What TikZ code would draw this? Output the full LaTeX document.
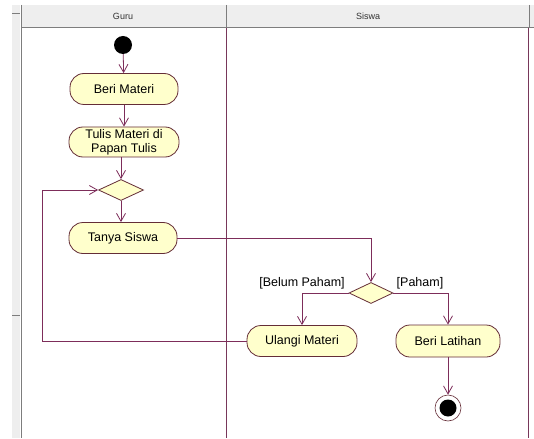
\documentclass[tikz,border=0pt]{standalone}
\usepackage{fontspec}
\setmainfont{Liberation Sans}
\usetikzlibrary{shapes.geometric,arrows.meta}

\definecolor{actfill}{RGB}{255,255,204}
\definecolor{actdraw}{RGB}{100,45,55}
\definecolor{flow}{RGB}{125,45,90}
\definecolor{lane}{RGB}{120,55,90}
\definecolor{hdrfill}{RGB}{238,238,238}
\definecolor{hdrline}{RGB}{125,125,125}
\definecolor{hdrtext}{RGB}{50,50,50}

\tikzset{
  actbox/.style={draw=actdraw, fill=actfill, line width=0.8pt, rounded corners=14pt,
    inner sep=0pt, align=center, font=\fontsize{12.5}{14}\selectfont},
  decide/.style={draw=actdraw, fill=actfill, line width=0.8pt, diamond,
    inner sep=0pt, minimum width=45pt, minimum height=21pt},
  flowline/.style={draw=flow, line width=0.8pt,
    -{Straight Barb[length=8pt,width=9pt,line width=0.8pt]}},
  guard/.style={font=\fontsize{12.5}{14}\selectfont, inner sep=0pt},
  hdrlabel/.style={font=\fontsize{9}{10}\selectfont, text=hdrtext, inner sep=0pt}
}

\begin{document}
\begin{tikzpicture}[x=1pt, y=-1pt]
  \useasboundingbox (0,0) rectangle (534,438);
  \fill[white] (0,0) rectangle (534,438);

  % scroll strip on the left
  \fill[hdrfill] (12,5) rectangle (20,438);
  \draw[hdrline, line width=0.6pt] (12,13) -- (20,13);
  \draw[hdrline, line width=0.6pt] (12,315) -- (20,315);

  % swimlane header
  \fill[hdrfill] (21,5) rectangle (534,27);
  \draw[hdrline, line width=0.6pt] (226,5) -- (226,27);
  \draw[hdrline, line width=0.6pt] (529,5) -- (529,27);
  \draw[hdrline, line width=1.6pt] (21,27.5) -- (534,27.5);
  \node[hdrlabel] (hguru) at (123,16) {Guru};
  \node[hdrlabel] (hsiswa) at (368,16) {Siswa};

  % lane borders
  \draw[hdrline, line width=1.8pt] (21.5,5) -- (21.5,438);
  \draw[lane, line width=0.8pt] (226,28) -- (226,438);
  \draw[lane, line width=0.8pt] (528.5,28) -- (528.5,438);

  % Guru lane
  \node[circle, fill=black, minimum size=18pt, inner sep=0pt] (start) at (123,45) {};
  \node[actbox, minimum width=108pt, minimum height=31pt] (beri) at (124,89) {Beri Materi};
  \node[actbox, minimum width=110pt, minimum height=30pt] (tulis) at (124,142) {Tulis Materi di\\Papan Tulis};
  \node[decide] (d1) at (121,190) {};
  \node[actbox, minimum width=108pt, minimum height=31pt] (tanya) at (123,238) {Tanya Siswa};

  % Siswa lane
  \node[decide, minimum width=44pt] (d2) at (371,293) {};
  \node[actbox, minimum width=110pt, minimum height=31pt] (ulangi) at (302,341) {Ulangi Materi};
  \node[actbox, minimum width=104pt, minimum height=32pt] (latihan) at (448,341) {Beri Latihan};
  \node[circle, draw=actdraw, fill=white, line width=0.6pt, minimum size=26pt, inner sep=0pt] (final) at (448,408) {};
  \node[circle, fill=black, minimum size=17pt, inner sep=0pt] (finaldot) at (448,408) {};

  % guard labels
  \node[guard] (gbelum) at (302,283) {[Belum Paham]};
  \node[guard] (gpaham) at (420,283) {[Paham]};

  \coordinate (loopc) at (42,341);

  % control flow
  \draw[flowline] (start) -- (beri);
  \draw[flowline] (beri) -- (tulis);
  \draw[flowline] (tulis.south -| d1.north) -- (d1.north);
  \draw[flowline] (d1.south) -- (tanya.north -| d1.south);
  \draw[flowline] (tanya.east) -| (d2.north);
  \draw[flowline] (d2.west) -| (ulangi.north);
  \draw[flowline] (d2.east) -| (latihan.north);
  \draw[flowline] (latihan.south) -- (final.north);
  \draw[flowline] (ulangi.west) -- (loopc) |- (d1.west);
\end{tikzpicture}
\end{document}
